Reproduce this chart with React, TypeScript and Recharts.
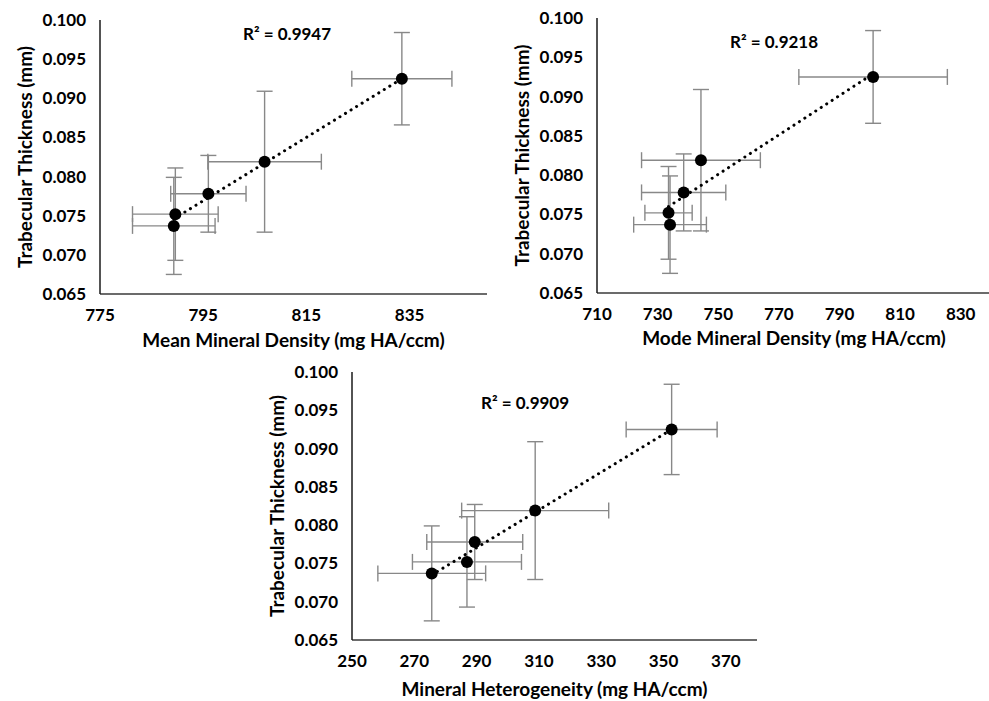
import React from 'react';
import { ScatterChart, Scatter, XAxis, YAxis, ErrorBar } from 'recharts';

// shared y values (trabecular thickness, mm) and their error
const thickness = [0.0737, 0.0752, 0.0778, 0.0819, 0.0925];
const thicknessErr = [0.0062, 0.0059, 0.0049, 0.009, 0.0059];
const thicknessTicks = [0.065, 0.07, 0.075, 0.08, 0.085, 0.09, 0.095, 0.1];

const meanDensity = [789.3, 789.6, 796.0, 806.9, 833.5];
const meanDensityErr = [8.0, 8.3, 7.3, 11.0, 9.7];
const meanTicks = [775, 795, 815, 835];
const meanTrendX = [789.3, 833.5];
const meanTrendY = [0.0746, 0.0925];

const modeDensity = [734.1, 733.6, 738.6, 744.3, 801.1];
const modeDensityErr = [12.0, 7.8, 13.9, 19.6, 24.5];
const modeTicks = [710, 730, 750, 770, 790, 810, 830];
const modeTrendX = [733.6, 801.1];
const modeTrendY = [0.076, 0.0929];

const heterogeneity = [275.6, 286.9, 289.4, 308.8, 352.6];
const heterogeneityErr = [17.3, 17.5, 15.4, 23.6, 14.6];
const hetTicks = [250, 270, 290, 310, 330, 350, 370];
const hetTrendX = [275.6, 352.6];
const hetTrendY = [0.0735, 0.0925];

const FONT = 'Lato, "Open Sans", sans-serif';

const YTitle = (props: any) => {
  const vb = props.viewBox;
  const cx = vb.x + 24;
  const cy = vb.y + vb.height / 2;
  return (
    <text x={cx} y={cy} transform={`rotate(-90 ${cx} ${cy})`} textAnchor="middle" dominantBaseline="central"
      style={{ fontFamily: FONT, fontSize: 19, fontWeight: 700, fill: '#000' }}>
      Trabecular Thickness (mm)
    </text>
  );
};

interface PanelProps {
  xs: number[];
  xErr: number[];
  domain: [number, number];
  ticks: number[];
  trendX: number[];
  trendY: number[];
  xTitle: string;
  r2: string;
  left: number;
  top: number;
  width: number;
  height: number;
  marginTop: number;
  marginRight: number;
  xAxisHeight: number;
  titleOffset: number;
  r2Left: number;
  r2Top: number;
}

const Panel = (p: PanelProps) => {
  const points = p.xs.map((x, i) => ({ x, y: thickness[i], ex: p.xErr[i], ey: thicknessErr[i] }));
  const trend = p.trendX.map((x, i) => ({ x, y: p.trendY[i] }));
  const tickStyle = { fontFamily: FONT, fontSize: 17, fontWeight: 700, fill: '#000' };
  return (
    <>
      <div style={{ position: 'absolute', left: p.left, top: p.top }}>
        <ScatterChart width={p.width} height={p.height}
          margin={{ top: p.marginTop, right: p.marginRight, left: 0, bottom: 0 }}>
          <XAxis type="number" dataKey="x" domain={p.domain} ticks={p.ticks} allowDataOverflow
            tickLine={false} tickMargin={9} height={p.xAxisHeight} tick={tickStyle}
            axisLine={{ stroke: '#3a3a3a', strokeWidth: 1.5 }}
            label={{ value: p.xTitle, position: 'insideBottom', offset: p.titleOffset,
              style: { fontFamily: FONT, fontSize: 19, fontWeight: 700, fill: '#000' } }} />
          <YAxis type="number" dataKey="y" domain={[0.065, 0.1]} ticks={thicknessTicks} allowDataOverflow
            tickLine={false} tickMargin={8} width={100} tick={tickStyle}
            tickFormatter={(v: number) => v.toFixed(3)}
            axisLine={{ stroke: '#1a1a1a', strokeWidth: 1.5 }}
            label={{ content: (lp: any) => <YTitle {...lp} /> }} />
          <Scatter data={trend} isAnimationActive={false} shape={() => <g />}
            line={{ stroke: '#000', strokeWidth: 3, strokeDasharray: '0.1 6.4', strokeLinecap: 'round' }} />
          <Scatter data={points} isAnimationActive={false}
            shape={(s: any) => <circle cx={s.cx} cy={s.cy} r={6} fill="#000" />}>
            <ErrorBar dataKey="ex" direction="x" width={8} stroke="#888" strokeWidth={1.4} />
            <ErrorBar dataKey="ey" direction="y" width={8} stroke="#888" strokeWidth={1.4} />
          </Scatter>
        </ScatterChart>
      </div>
      <div style={{ position: 'absolute', left: p.r2Left, top: p.r2Top, fontFamily: FONT, fontSize: 17,
        fontWeight: 700, color: '#000', lineHeight: '20px', whiteSpace: 'nowrap' }}>
        {p.r2}
      </div>
    </>
  );
};

export default function App() {
  return (
    <div style={{ position: 'absolute', left: 0, top: 0, width: 989, height: 701, overflow: 'hidden', background: '#fff' }}>
      <Panel xs={meanDensity} xErr={meanDensityErr} domain={[775, 850]} ticks={meanTicks}
        trendX={meanTrendX} trendY={meanTrendY} xTitle="Mean Mineral Density (mg HA/ccm)" r2="R² = 0.9947"
        left={0} top={0} width={490} height={352} marginTop={20} marginRight={3} xAxisHeight={58}
        titleOffset={5.5} r2Left={243} r2Top={24} />
      <Panel xs={modeDensity} xErr={modeDensityErr} domain={[710, 840]} ticks={modeTicks}
        trendX={modeTrendX} trendY={modeTrendY} xTitle="Mode Mineral Density (mg HA/ccm)" r2="R² = 0.9218"
        left={497} top={0} width={496} height={351} marginTop={18} marginRight={2} xAxisHeight={58}
        titleOffset={6.5} r2Left={730} r2Top={32} />
      <Panel xs={heterogeneity} xErr={heterogeneityErr} domain={[250, 380]} ticks={hetTicks}
        trendX={hetTrendX} trendY={hetTrendY} xTitle="Mineral Heterogeneity (mg HA/ccm)" r2="R² = 0.9909"
        left={252} top={355} width={505} height={346} marginTop={17} marginRight={0} xAxisHeight={61}
        titleOffset={5} r2Left={481} r2Top={393} />
    </div>
  );
}
